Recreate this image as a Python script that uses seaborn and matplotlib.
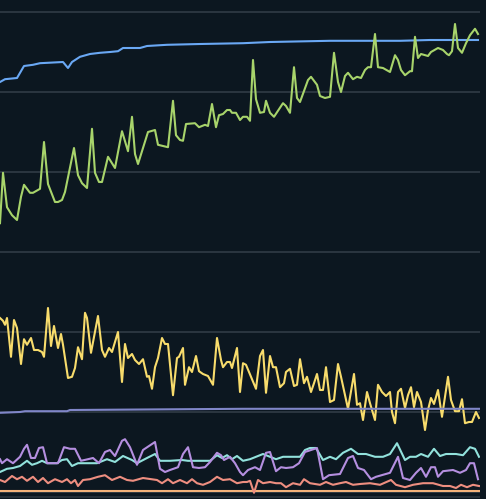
import pandas as pd
import matplotlib
matplotlib.use('Agg')
import matplotlib.pyplot as plt
import seaborn as sns

# values (x = sample position, y = metric value)
blue_x = [0, 5, 17, 24, 33, 40, 63, 68, 72, 80, 90, 100, 110, 118, 123, 140, 147, 167, 200, 243, 270, 330, 400, 430, 478]
blue_y = [102.5, 103.2, 103.5, 106.5, 106.8, 107.2, 107.5, 106.0, 107.5, 108.8, 109.5, 109.8, 110.0, 110.2, 111.0,
          111.0, 111.5, 111.8, 112.0, 112.2, 112.5, 112.8, 112.8, 113.0, 113.0]

green_x = [0, 3, 7, 12, 17, 21, 24, 30, 33, 40, 44, 48, 55, 58, 62, 65, 74, 78, 82, 87, 92, 95, 99, 102, 108,
           115, 122, 128, 132, 135, 138, 148, 155, 158, 168, 173, 176, 180, 183, 186, 195, 199, 205, 208, 212,
           216, 219, 223, 227, 230, 232, 236, 240, 243, 247, 250, 253, 256, 260, 264, 266, 270, 274, 283, 286,
           290, 294, 297, 300, 308, 311, 317, 320, 325, 330, 334, 338, 341, 345, 348, 353, 357, 361, 365, 368,
           371, 375, 378, 383, 390, 395, 398, 401, 405, 410, 412, 415, 418, 421, 428, 431, 438, 443, 447, 449,
           452, 455, 458, 462, 466, 470, 475, 478]
green_y = [67.2, 79.8, 71.2, 69.2, 68.0, 73.8, 76.8, 74.8, 74.8, 75.8, 87.5, 77.0, 72.5, 72.5, 73.0, 75.0, 86.0,
           79.2, 77.2, 76.0, 90.8, 79.8, 77.5, 77.5, 83.8, 81.0, 90.2, 85.2, 93.8, 84.5, 82.0, 90.0, 90.5, 86.8,
           86.2, 97.8, 89.2, 88.0, 87.8, 92.0, 92.2, 91.2, 91.8, 91.5, 97.0, 91.2, 94.2, 94.5, 95.5, 95.5, 94.8,
           94.8, 93.0, 93.8, 93.8, 92.8, 108.0, 98.2, 94.8, 95.0, 97.8, 94.8, 93.8, 97.2, 96.5, 94.8, 106.2, 98.5,
           97.5, 103.0, 103.8, 101.8, 99.0, 98.5, 98.8, 109.8, 102.5, 100.0, 104.0, 104.8, 103.2, 103.8, 103.5,
           105.5, 106.2, 106.2, 114.5, 106.2, 106.0, 105.0, 109.2, 108.0, 105.5, 104.2, 105.2, 105.2, 113.8,
           108.5, 109.5, 109.0, 110.0, 111.0, 110.5, 109.5, 109.2, 110.2, 117.0, 111.0, 109.8, 112.2, 114.2,
           115.8, 114.5]

yellow_x = [0, 3, 5, 7, 11, 14, 17, 21, 24, 27, 31, 34, 38, 42, 44, 48, 51, 54, 58, 61, 63, 68, 72, 75, 78, 82,
            85, 87, 91, 98, 102, 105, 109, 112, 118, 122, 125, 128, 132, 135, 139, 143, 147, 149, 152, 155, 158,
            162, 165, 168, 173, 177, 179, 183, 185, 189, 192, 196, 199, 203, 208, 213, 217, 221, 223, 227, 230,
            232, 237, 240, 243, 246, 251, 256, 260, 263, 266, 270, 273, 276, 280, 284, 286, 290, 294, 297, 300,
            304, 307, 311, 314, 317, 320, 323, 326, 330, 334, 338, 341, 348, 354, 357, 360, 363, 367, 370, 375,
            378, 382, 386, 390, 392, 395, 398, 401, 405, 408, 411, 414, 417, 421, 425, 428, 431, 434, 438, 442,
            448, 451, 455, 459, 462, 465, 469, 472, 476, 479]
yellow_y = [43.5, 42.8, 41.8, 43.5, 33.8, 43.0, 41.0, 32.0, 38.2, 36.8, 38.5, 35.5, 35.5, 35.0, 33.8, 46.0, 36.5,
            41.5, 36.0, 39.5, 36.8, 28.5, 28.8, 31.0, 36.2, 33.2, 44.8, 43.5, 34.8, 44.0, 35.5, 33.8, 36.0, 35.0,
            40.0, 27.5, 37.0, 33.5, 34.5, 33.0, 32.0, 33.2, 28.8, 29.0, 25.8, 31.2, 33.5, 38.5, 37.0, 37.0, 24.2,
            33.5, 33.8, 36.0, 26.8, 31.2, 30.0, 34.0, 30.2, 29.5, 29.0, 26.8, 38.5, 33.0, 31.2, 32.5, 32.5, 31.0,
            36.0, 25.0, 32.2, 31.8, 28.8, 25.8, 34.0, 35.5, 24.8, 34.0, 31.2, 31.2, 26.2, 27.2, 30.0, 30.8, 26.5,
            26.8, 33.2, 27.2, 28.8, 25.0, 27.2, 29.5, 25.5, 25.5, 31.2, 22.5, 23.0, 32.0, 28.8, 20.8, 29.5, 21.8,
            22.2, 18.0, 25.0, 22.2, 18.0, 26.8, 25.0, 24.0, 25.0, 20.0, 17.2, 25.0, 25.8, 21.0, 24.2, 26.2, 21.2,
            25.0, 22.5, 15.5, 20.5, 23.5, 22.0, 25.5, 18.8, 28.8, 23.0, 20.2, 20.2, 23.2, 17.2, 17.5, 17.5, 20.0,
            18.5]

slate_x = [0, 20, 25, 67, 70, 243, 479]
slate_y = [19.8, 20.0, 20.2, 20.2, 20.5, 20.8, 20.8]

purple_x = [0, 2, 7, 13, 20, 24, 27, 31, 35, 39, 43, 47, 58, 64, 70, 75, 81, 88, 93, 99, 105, 110, 115, 122, 125,
            130, 137, 143, 155, 160, 165, 170, 178, 183, 188, 193, 199, 205, 210, 217, 221, 224, 230, 235, 240,
            243, 248, 255, 260, 266, 270, 276, 281, 286, 293, 299, 305, 311, 317, 323, 329, 340, 348, 353, 358,
            364, 371, 376, 390, 398, 403, 410, 416, 421, 426, 431, 435, 438, 443, 453, 460, 466, 470, 474, 478]
purple_y = [8.2, 7.2, 8.2, 7.2, 8.8, 10.8, 11.8, 8.5, 8.5, 11.0, 11.2, 7.2, 7.2, 11.2, 10.8, 10.8, 7.8, 8.2, 8.5,
            7.2, 10.0, 10.5, 9.0, 12.8, 13.2, 11.2, 6.8, 10.5, 12.5, 5.8, 5.0, 5.5, 6.2, 9.5, 11.2, 6.2, 6.0, 6.2,
            7.5, 9.8, 9.2, 8.0, 8.8, 7.2, 5.0, 4.2, 5.5, 6.2, 5.5, 9.8, 10.0, 5.2, 6.2, 6.0, 6.2, 7.2, 10.0, 10.5,
            11.0, 3.2, 4.2, 4.5, 8.5, 9.0, 6.0, 5.5, 3.2, 3.8, 4.8, 8.8, 3.5, 3.0, 4.8, 6.0, 3.8, 6.2, 6.2, 3.8,
            5.2, 5.5, 4.8, 5.5, 7.2, 7.2, 3.2]

cyan_x = [0, 7, 13, 20, 27, 32, 37, 42, 47, 57, 62, 67, 72, 78, 87, 97, 107, 115, 123, 132, 137, 147, 155, 160,
          170, 182, 188, 200, 210, 217, 222, 227, 232, 237, 243, 250, 256, 263, 270, 276, 283, 293, 300, 305, 310,
          316, 323, 330, 336, 343, 351, 358, 366, 375, 383, 390, 397, 405, 410, 416, 421, 428, 434, 440, 446, 456,
          463, 470, 475, 479]
cyan_y = [5.0, 5.8, 6.0, 6.5, 7.8, 6.8, 7.2, 7.8, 7.2, 7.2, 8.0, 8.2, 6.5, 7.2, 7.2, 7.2, 8.2, 7.5, 9.0, 8.0, 7.2,
          8.5, 9.5, 7.8, 7.8, 8.0, 7.8, 7.8, 7.8, 9.2, 8.5, 9.2, 8.2, 9.0, 7.8, 8.2, 8.8, 9.5, 8.8, 8.2, 8.8, 8.8,
          8.8, 10.5, 11.0, 11.0, 8.0, 8.8, 8.2, 9.8, 10.8, 9.5, 9.5, 8.8, 8.8, 9.5, 12.2, 8.0, 8.8, 8.8, 9.5, 8.8,
          10.8, 9.0, 9.5, 9.5, 9.2, 11.2, 10.8, 8.8]

salmon_x = [0, 5, 12, 17, 22, 27, 33, 38, 43, 48, 55, 62, 67, 71, 75, 78, 83, 90, 98, 105, 112, 120, 127, 133, 143,
            157, 162, 168, 173, 180, 187, 192, 197, 203, 210, 217, 223, 230, 237, 243, 247, 250, 254, 258, 263,
            270, 276, 281, 286, 293, 300, 304, 310, 320, 326, 333, 340, 346, 353, 360, 370, 380, 391, 396, 405,
            413, 423, 433, 443, 450, 456, 461, 467, 473, 479]
salmon_y = [3.0, 2.5, 4.0, 3.2, 3.8, 2.8, 3.8, 2.5, 3.5, 2.2, 3.2, 2.5, 3.2, 2.2, 3.0, 1.5, 3.0, 3.2, 3.8, 4.2, 3.0,
            3.8, 3.0, 2.8, 3.5, 3.0, 2.2, 3.2, 2.2, 3.0, 2.2, 3.2, 2.2, 1.8, 2.5, 3.8, 3.0, 3.2, 2.2, 2.5, 2.5, 2.8,
            -0.2, 3.0, 2.2, 2.5, 2.2, 2.2, 1.2, 2.2, 1.8, 3.2, 2.2, 1.8, 2.5, 1.8, 2.2, 2.5, 1.8, 2.0, 2.2, 1.8,
            3.0, 1.8, 1.2, 1.8, 2.2, 2.2, 1.5, 1.5, 1.0, 1.8, 1.2, 1.8, 1.5]

orange_x = [0, 479]
orange_y = [0.3, 0.3]

series = [
    ('blue', blue_x, blue_y, '#6aa8f4'),
    ('green', green_x, green_y, '#a8d46b'),
    ('yellow', yellow_x, yellow_y, '#f8dc6c'),
    ('slate', slate_x, slate_y, '#8086c8'),
    ('orange', orange_x, orange_y, '#f4b27a'),
    ('salmon', salmon_x, salmon_y, '#ee8e80'),
    ('cyan', cyan_x, cyan_y, '#92e2dc'),
    ('purple', purple_x, purple_y, '#b58fe0'),
]

frames = []
for name, xs, ys, _ in series:
    frames.append(pd.DataFrame({'t': xs, 'value': ys, 'series': name}))
df = pd.concat(frames, ignore_index=True)
palette = {name: color for name, _, _, color in series}

bg = '#0c1720'
fig = plt.figure(figsize=(4.86, 4.99), dpi=100, facecolor=bg)
ax = fig.add_axes([0, 0, 480 / 486, 1])
ax.set_facecolor(bg)

# horizontal grid
for gy in [0, 20, 40, 60, 80, 100, 120]:
    ax.axhline(gy, color='#2e3943', lw=1.3, zorder=0)
ax.axhline(-1.3, color='#252f38', lw=1.5, zorder=0)

sns.lineplot(data=df, x='t', y='value', hue='series', palette=palette,
             estimator=None, sort=False, linewidth=1.5, legend=False, ax=ax)
for line in ax.get_lines():
    line.set_solid_joinstyle('round')

ax.set_xlim(0, 480)
ax.set_ylim(-1.75, 123)
for s in ax.spines.values():
    s.set_visible(False)
ax.set_xticks([])
ax.set_yticks([])
ax.set_xlabel('')
ax.set_ylabel('')

fig.savefig('out.png', dpi=100, facecolor=bg)
